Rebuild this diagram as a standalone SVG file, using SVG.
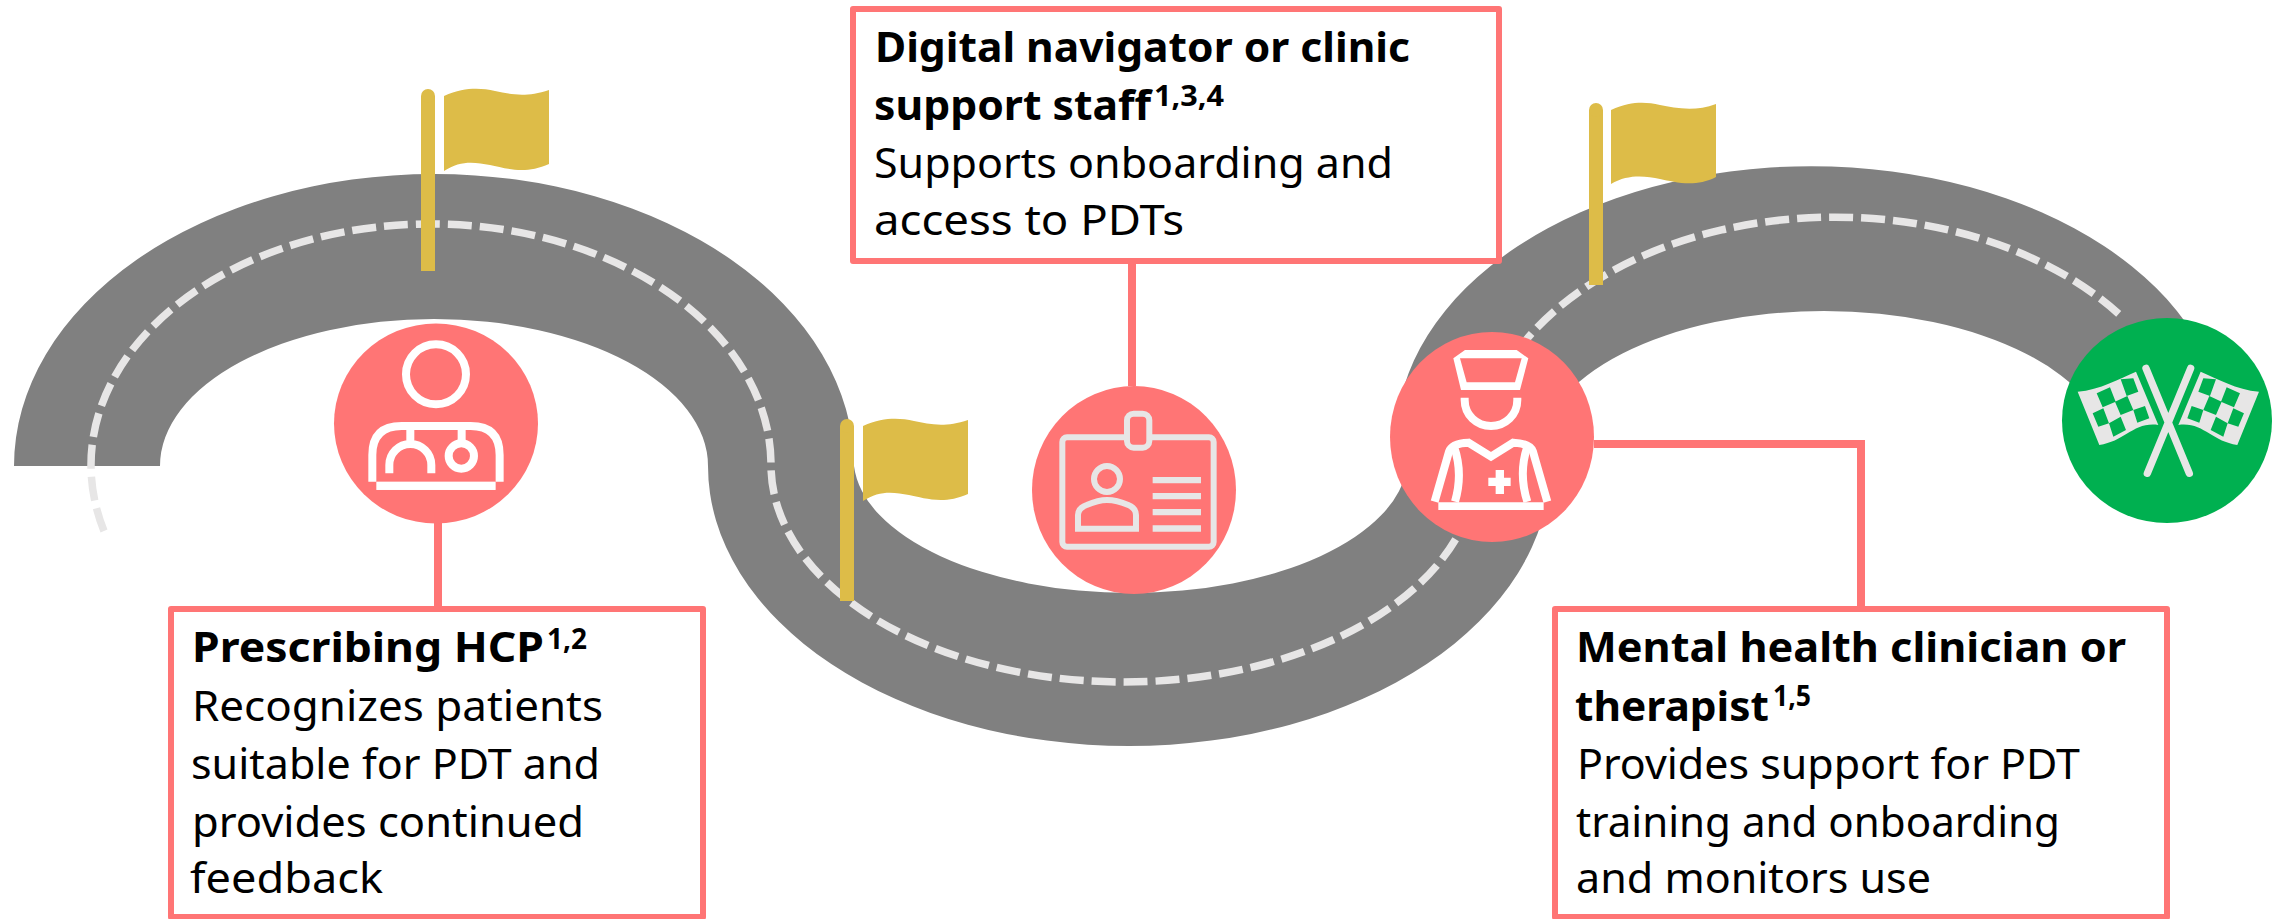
<svg xmlns="http://www.w3.org/2000/svg" width="2284" height="919" viewBox="0 0 2284 919">
<style>
text{font-family:"Noto Sans","Liberation Sans",sans-serif;font-size:42px;fill:#000}
.b{font-weight:700}
.s{font-weight:700;font-size:29px}
.box{fill:#fff;stroke:#FF7575;stroke-width:6;stroke-linejoin:round}
.conn{fill:none;stroke:#FF7575;stroke-width:8}
.flag{fill:#DDBC48}
.pole{fill:none;stroke:#DDBC48;stroke-width:14}
.ic{fill:none;stroke-width:24}
.w{stroke:#fff}
.g{stroke:#E7E6E6}
.wf{fill:#fff}
.gf{fill:#E7E6E6}
.gr{fill:#00B050}
</style>
<defs>
<g id="chk">
<path class="gf" d="M83,245C150,240 210,205 258,185L325,345C250,335 225,395 148,405Z"/>
<path class="gr" d="M140,250L180,232L197,275L158,292ZM212,208L250,205L265,245L230,258ZM195,275L232,258L250,300L212,315ZM128,310L160,295L177,340L145,350ZM250,300L285,288L298,325L262,338ZM177,340L212,320L228,360L190,380Z"/>
</g>
</defs>
<rect width="2284" height="919" fill="#fff"/>
<g id="road">
<path fill="#808080" d="M14,466A420,292 0 0 1 854,466A277,135 0 0 0 1407,466L1396,440A415,274 0 0 1 2226,440L2109,456A285,145 0 0 0 1539,456L1550,466A421,280 0 0 1 708,466A274,147 0 0 0 160,466Z"/>
<path fill="none" stroke="#E7E6E6" stroke-width="7.5" stroke-dasharray="24 8" d="M104,531A340,241 0 1 1 771,465A353,217 0 0 0 1477,465A358,248 0 0 1 2121,316"/>
</g>
<g id="connectors">
<path class="conn" d="M438,523V609"/>
<path class="conn" d="M1132,261V386"/>
<path class="conn" d="M1594,444H1861V609"/>
</g>
<g id="flag-1">
<path class="pole" d="M428,96V271"/><circle cx="428" cy="96" r="7" fill="#DDBC48"/>
<path class="flag" d="M444,96C465,87 480,88 495,91C510,94 525,98 549,90V164C525,175 505,168 490,165C475,162 460,160 444,171Z"/>
</g>
<g id="flag-2">
<path class="pole" d="M847,426V601"/><circle cx="847" cy="426" r="7" fill="#DDBC48"/>
<path class="flag" d="M863,426C884,417 899,418 914,421C929,424 944,428 968,420V494C944,505 924,498 909,495C894,492 879,490 863,501Z"/>
</g>
<g id="flag-3">
<path class="pole" d="M1596,110V285"/><circle cx="1596" cy="110" r="7" fill="#DDBC48"/>
<path class="flag" d="M1611,110C1632,101 1645,102 1660,105C1675,108 1695,112 1716,104V177C1695,188 1675,182 1660,179C1645,176 1628,174 1611,184Z"/>
</g>
<g id="node-hcp">
<ellipse cx="436" cy="423.5" rx="102" ry="100" fill="#FF7575"/>
<g transform="translate(310,310) scale(.3333)" class="ic w">
<circle cx="378" cy="193" r="90"/>
<path d="M187,515V435Q187,348 275,348H482Q569,348 569,435V515"/>
<path d="M301,360V402M455,360V400M238,490V465A63,63 0 0 1 364,465V490"/>
<circle cx="454" cy="438" r="38"/>
<rect class="wf" x="199" y="515" width="358" height="25" stroke="none"/>
</g>
<rect class="box" x="171" y="609" width="532" height="308"/>
<text x="192" y="662" class="b"><tspan textLength="352" lengthAdjust="spacingAndGlyphs">Prescribing HCP</tspan><tspan class="s" x="547" y="649" textLength="40" lengthAdjust="spacingAndGlyphs">1,2</tspan></text>
<text x="192" y="720.5" textLength="411" lengthAdjust="spacingAndGlyphs">Recognizes patients</text>
<text x="191" y="779" textLength="409" lengthAdjust="spacingAndGlyphs">suitable for PDT and</text>
<text x="192" y="836.5" textLength="392" lengthAdjust="spacingAndGlyphs">provides continued</text>
<text x="190" y="893" textLength="193" lengthAdjust="spacingAndGlyphs">feedback</text>
</g>
<g id="node-navigator">
<ellipse cx="1134" cy="490" rx="102" ry="104" fill="#FF7575"/>
<g transform="translate(1020,380) scale(.3333)" class="ic g" style="stroke-width:18">
<rect x="127" y="172" width="454" height="328" rx="14"/>
<rect x="321" y="101" width="67" height="102" rx="20" fill="#FF7575"/>
<circle cx="261" cy="297" r="39"/>
<path d="M174,446V405Q174,385 200,375Q235,360 261,360Q290,360 325,375Q348,385 348,405V446Z"/>
<path class="gf" stroke="none" d="M398,291H543V310H398ZM398,339H543V358H398ZM398,387H543V406H398ZM398,436H543V455H398Z"/>
</g>
<rect class="box" x="853" y="9" width="646" height="252"/>
<text x="875" y="61.5" class="b" textLength="535" lengthAdjust="spacingAndGlyphs">Digital navigator or clinic</text>
<text x="874" y="120" class="b"><tspan textLength="277" lengthAdjust="spacingAndGlyphs">support staff</tspan><tspan class="s" x="1154" y="106" textLength="70" lengthAdjust="spacingAndGlyphs">1,3,4</tspan></text>
<text x="874" y="177.5" textLength="519" lengthAdjust="spacingAndGlyphs">Supports onboarding and</text>
<text x="874" y="235" textLength="310" lengthAdjust="spacingAndGlyphs">access to PDTs</text>
</g>
<g id="node-clinician">
<ellipse cx="1492" cy="437" rx="102" ry="105" fill="#FF7575"/>
<g transform="translate(1380,330) scale(.3333)" class="ic w">
<path class="wf" stroke="none" fill-rule="evenodd" d="M220,85L255,60H410L445,85L420,180H243ZM240,85L260,157H405L425,85Z"/>
<path d="M254,203V210C254,255 290,288 333,288C376,288 412,255 412,210V203"/>
<path d="M164,515L207,365Q215,340 265,338L333,380L400,338Q450,340 459,365L502,515"/>
<path d="M222,350Q250,430 225,515M442,350Q415,430 442,515"/>
<path class="wf" stroke="none" d="M175,517H491V540H175ZM325,443H347V420H372V443H392V468H372V492H347V468H325Z"/>
</g>
<rect class="box" x="1555" y="609" width="612" height="308"/>
<text x="1576" y="662" class="b" textLength="550" lengthAdjust="spacingAndGlyphs">Mental health clinician or</text>
<text x="1575" y="720.5" class="b"><tspan textLength="194" lengthAdjust="spacingAndGlyphs">therapist</tspan><tspan class="s" x="1773" y="706" textLength="38" lengthAdjust="spacingAndGlyphs">1,5</tspan></text>
<text x="1577" y="779" textLength="503" lengthAdjust="spacingAndGlyphs">Provides support for PDT</text>
<text x="1576" y="836.5" textLength="484" lengthAdjust="spacingAndGlyphs">training and onboarding</text>
<text x="1576" y="893" textLength="355" lengthAdjust="spacingAndGlyphs">and monitors use</text>
</g>
<g id="node-finish">
<ellipse cx="2167" cy="420.5" rx="105" ry="102.5" fill="#00B050"/>
<g transform="translate(2050,310) scale(.3333)">
<path class="g" fill="none" stroke-width="22" stroke-linecap="round" d="M288,175L418,490M422,175L292,490"/>
<use href="#chk"/>
<use href="#chk" transform="matrix(-1 0 0 1 710 0)"/>
</g>
</g>
</svg>
